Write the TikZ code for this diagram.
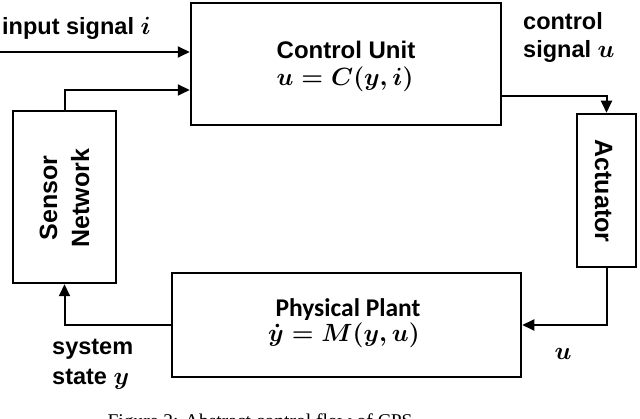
\documentclass[tikz,border=0pt]{standalone}
\usepackage{fontspec}
\setmainfont{Liberation Sans}
\newfontfamily\calibfont{Carlito}
\newfontfamily\capfont{Liberation Serif}
\usetikzlibrary{arrows.meta}
\tikzset{
  blk/.style={draw, line width=2.5pt, inner sep=0pt},
  arr/.style={line width=2pt, -{Triangle[length=12pt,width=11pt]}},
  txt/.style={inner sep=0pt, anchor=base west, font=\fontsize{23.5}{28}\selectfont\bfseries\mathversion{bold}},
  ctr/.style={inner sep=0pt, anchor=base, font=\fontsize{24}{28}\selectfont\bfseries\mathversion{bold}},
  mth/.style={inner sep=0pt, anchor=base, font=\fontsize{25}{28}\selectfont\mathversion{bold}},
  rot/.style={inner sep=0pt, font=\fontsize{25}{28}\selectfont\bfseries},
}
\begin{document}
\begin{tikzpicture}[x=1pt,y=-1pt]
\useasboundingbox (0,0) rectangle (640,419);
% boxes
\node (cu) [blk, minimum width=310pt, minimum height=122pt] at (346,64) {};
\node (sn) [blk, minimum width=103pt, minimum height=172pt] at (64.5,197) {};
\node (act) [blk, minimum width=59pt, minimum height=153pt] at (606.5,190.5) {};
\node (pp) [blk, minimum width=349pt, minimum height=104pt] at (346.5,325) {};
% box texts
\node (cut) [ctr] at (346,59) {Control Unit};
\node (cum) [mth] at (345,86) {$u=C(y,i)$};
\node (snt1) [rot, rotate=90, anchor=base] at (57,198) {Sensor};
\node (snt2) [rot, rotate=90, anchor=base] at (89,198) {Network};
\node (actt) [rot, rotate=-90, anchor=base] at (595,191) {Actuator};
\node (ppt) [inner sep=0pt, anchor=base, font=\fontsize{25.5}{28}\selectfont\calibfont\bfseries] at (348,317) {Physical Plant};
\node (ppm) [inner sep=0pt, anchor=base, font=\fontsize{30}{32}\selectfont\mathversion{bold}] at (344,342) {$\dot{y}=M(y,u)$};
% connectors
\coordinate (in) at (0,52);
\draw[arr] (in) -- (in -| cu.west);
\draw[arr] (sn.north) |- ([yshift=-26pt]cu.west);
\draw[arr] ([yshift=-32pt]cu.east) -| (act.north);
\draw[arr] (act.south) |- (pp.east);
\draw[arr] (pp.west) -| (sn.south);
% labels
\node (li) [txt] at (2,35) {input signal $i$};
\node (lc1) [txt] at (523,30) {control};
\node (lc2) [txt] at (523,58) {signal $u$};
\node (lu) [mth] at (563,360) {$u$};
\node (ls1) [txt] at (52,355) {system};
\node (ls2) [txt] at (52,385) {state $y$};
\begin{scope}
\clip (0,0) rectangle (640,419);
\node (cap) [inner sep=0pt, anchor=base, font=\fontsize{19.5}{22}\selectfont\capfont] at (260,428) {Figure 2: Abstract control flow of CPS};
\end{scope}
\end{tikzpicture}
\end{document}
